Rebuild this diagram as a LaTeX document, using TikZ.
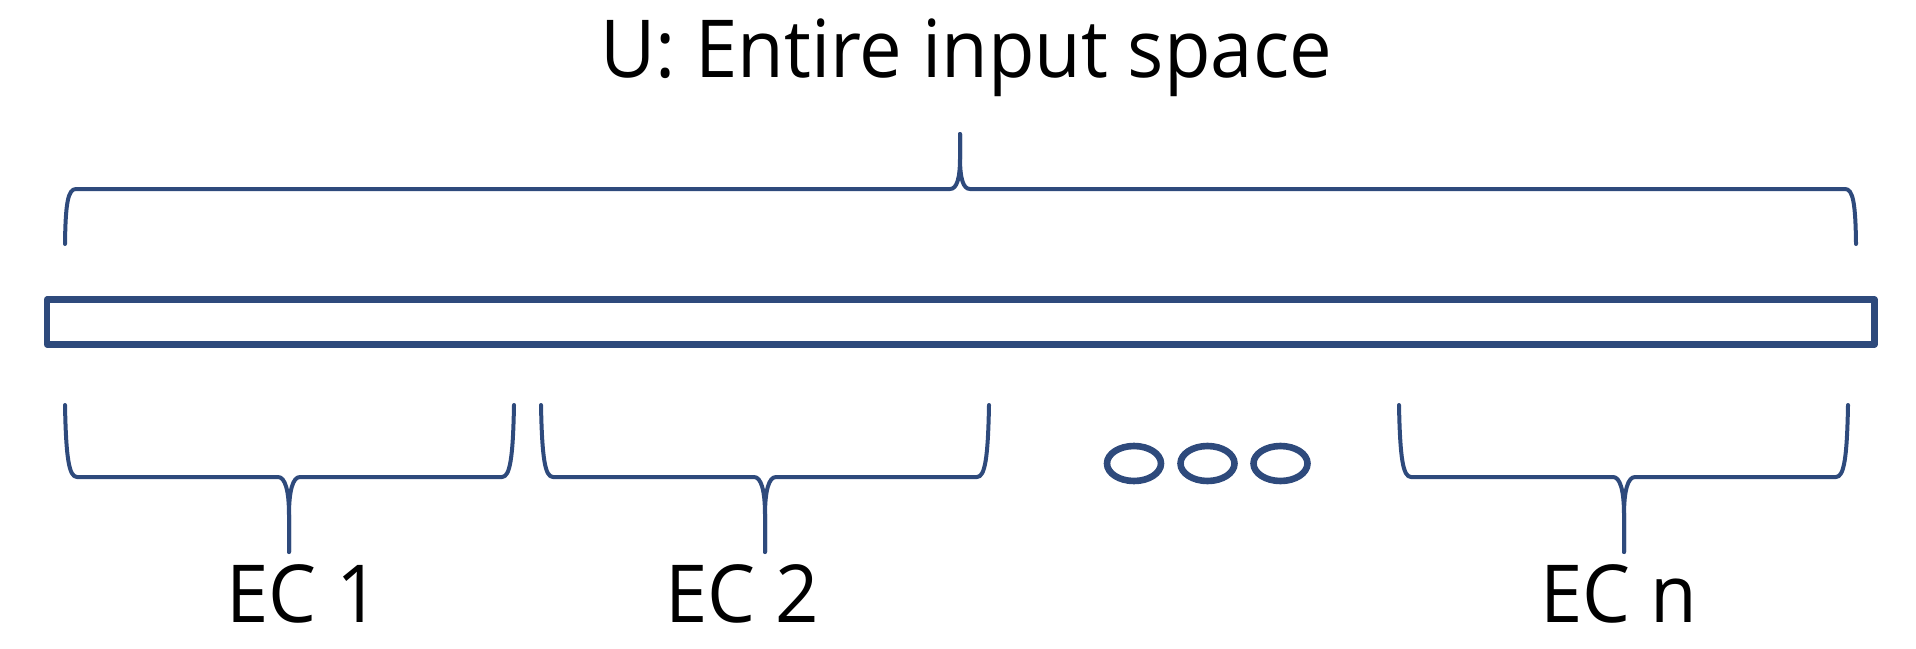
\documentclass[tikz,border=0pt]{standalone}
\usepackage{fontspec}
\usepackage{graphicx}
\setmainfont{Open Sans}
\usetikzlibrary{shapes.geometric}
\definecolor{bracecol}{RGB}{46,74,124}
\tikzset{
  px/.style={x=0.5pt,y=-0.5pt},
  bracelin/.style={draw=bracecol,line width=2pt,line cap=round,line join=round},
  framebox/.style={draw=bracecol,line width=3.2pt,line join=round,rectangle,inner sep=0pt,
     minimum width=913.75pt,minimum height=22.5pt},
  dotring/.style={draw=bracecol,line width=3.3pt,ellipse,inner sep=0pt,
     minimum width=27pt,minimum height=17.5pt},
  lbl/.style={font=\fontsize{40pt}{48pt}\selectfont,inner sep=0pt,text=black}
}
\newcommand\sq[1]{\scalebox{0.95}[1]{#1}}
\newcommand\ecbrace[3]{%
  \draw[bracelin] (#1,405) .. controls ({#1+1},458) and ({#1+4},477) .. ({#1+12},477)
     -- ({#3-11},477) .. controls ({#3-4},477) and (#3,490) .. (#3,515) -- (#3,552);
  \draw[bracelin] (#3,552) -- (#3,515) .. controls (#3,490) and ({#3+4},477) .. ({#3+11},477)
     -- ({#2-12},477) .. controls ({#2-4},477) and ({#2-1},458) .. (#2,405);
}
\begin{document}
\begin{tikzpicture}[px]
\useasboundingbox (0,0) rectangle (1916,648);
% title
\node[lbl,anchor=base] (title) at (966,77) {\sq{U: Entire input space}};
% top brace
\coordinate (tl) at (65,244);
\coordinate (tr) at (1856,244);
\coordinate (tp) at (960,134);
\draw[bracelin] (tl) .. controls (65.5,203) and (68,189) .. (76,189) -- (950,189)
   .. controls (957,189) and (960,178) .. (960,158) -- (tp);
\draw[bracelin] (tp) -- (960,158) .. controls (960,178) and (963,189) .. (970,189)
   -- (1845,189) .. controls (1853,189) and (1855.5,203) .. (tr);
% input space bar
\node[framebox] (bar) at (960.75,322) {};
% bottom braces
\ecbrace{65}{514}{289}
\ecbrace{541}{989}{765}
\ecbrace{1399}{1848}{1624}
% dots
\node[dotring] (d1) at (1134,463.5) {};
\node[dotring] (d2) at (1207.5,463.5) {};
\node[dotring] (d3) at (1280.5,463.5) {};
% labels
\node[lbl,anchor=base west] (ec1) at (226,622) {\sq{EC 1}};
\node[lbl,anchor=base west] (ec2) at (665,622) {\sq{EC 2}};
\node[lbl,anchor=base west] (ecn) at (1540,622) {\sq{EC n}};
\end{tikzpicture}
\end{document}
